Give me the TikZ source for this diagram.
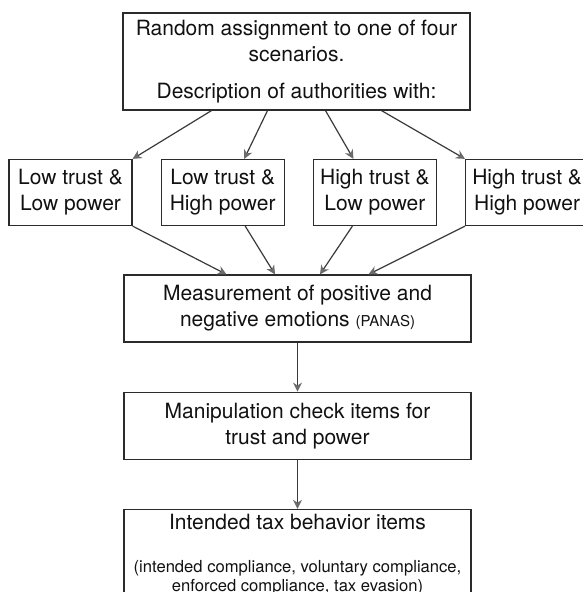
\documentclass[tikz,border=0pt]{standalone}
\usepackage{fontspec}
\setmainfont{TeX Gyre Heros}
\usetikzlibrary{positioning, arrows.meta}
\definecolor{boxline}{HTML}{2B2B2B}
\definecolor{flowline}{HTML}{3A3A3A}
\definecolor{headcol}{HTML}{6B6B6B}
\definecolor{textcol}{HTML}{111111}
\tikzset{node distance=24.5pt, % gap between the stacked boxes
every node/.style={font=\fontsize{10.5}{13}\selectfont, text=textcol},
box/.style={ % plain framed text box
draw=boxline, line width=0.6pt, align=center, inner sep=0pt},
wide box/.style={box, minimum width=173.5pt, minimum height=33.5pt},
cond box/.style={box, minimum width=61.5pt, minimum height=33pt},
flow/.style={ % connectors with small grey heads
draw=flowline, line width=0.6pt,
-{Stealth[length=4.5pt, width=4.5pt, color=headcol]}}}
\newcommand{\smalltxt}{\fontsize{7.5}{9}\selectfont}
\newcommand{\listtxt}{\fontsize{8.3}{9.6}\selectfont}
\newcommand{\headtxt}{\fontsize{10.5}{13}\selectfont}

\begin{document}
\begin{tikzpicture}[x=0.5pt, y=-0.5pt]
    \useasboundingbox (0,0) rectangle (582,592);

    \node[wide box, minimum height=48.5pt] (top) at (296.5,61.5)
        {Random assignment to one of four\\ scenarios.\\[5.5pt] Description of authorities with:};

    \node[cond box] (lowlow) at (70.5,192.5) {Low trust \&\\ Low power};
    \node[cond box, right=14pt of lowlow] (lowhigh) {Low trust \&\\ High power};
    \node[cond box, right=14pt of lowhigh] (highlow) {High trust \&\\ Low power};
    \node[cond box, right=14pt of highlow] (highhigh) {High trust \&\\ High power};

    \node[wide box] (panas) at (297.5,308.5)
        {Measurement of positive and\\ negative emotions {\smalltxt(PANAS)}};
    \node[wide box, below=of panas] (check) {Manipulation check items for\\ trust and power};
    \node[wide box, below=of check, minimum height=0pt, inner ysep=2.6pt, font=\listtxt] (taxbeh)
        {{\headtxt Intended tax behavior items}\\[11.5pt]
         (intended compliance, voluntary compliance,\\
         enforced compliance, tax evasion)\\[2pt]};

    \draw[flow] ([xshift=-42.5pt]top.south) -- (lowlow.north east);
    \draw[flow] ([xshift=-14.5pt]top.south) -- ([xshift=10.75pt]lowhigh.north);
    \draw[flow] ([xshift=14.5pt]top.south) -- ([xshift=-10.75pt]highlow.north);
    \draw[flow] ([xshift=42.5pt]top.south) -- (highhigh.north west);

    \draw[flow] (lowlow.south east) -- ([xshift=-35.5pt]panas.north);
    \draw[flow] ([xshift=11.25pt]lowhigh.south) -- ([xshift=-11.25pt]panas.north);
    \draw[flow] ([xshift=-11.25pt]highlow.south) -- ([xshift=11.25pt]panas.north);
    \draw[flow] (highhigh.south west) -- ([xshift=35.5pt]panas.north);

    \draw[flow] (panas) -- (check);
    \draw[flow] (check) -- (taxbeh);

\end{tikzpicture}
\end{document}
